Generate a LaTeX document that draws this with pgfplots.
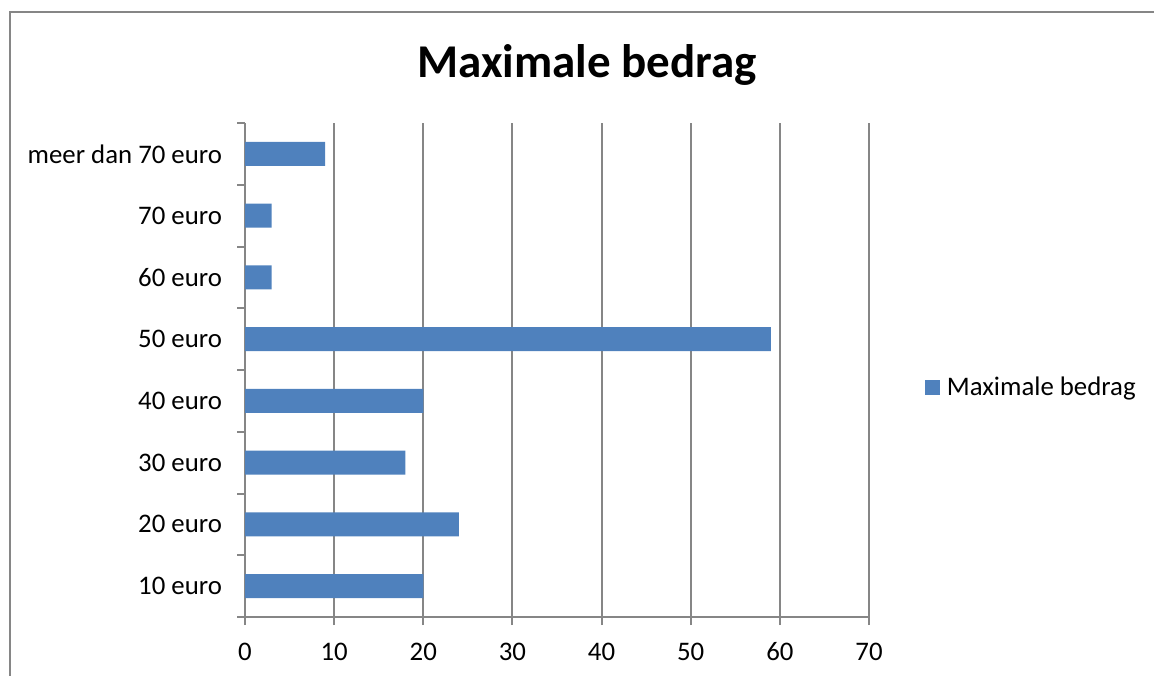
\documentclass[border=0pt]{standalone}
\usepackage{fontspec}
\setmainfont{Carlito}
\usepackage{pgfplots}
\pgfplotsset{compat=1.18}
\definecolor{barblue}{HTML}{4F81BD}
\definecolor{gridgray}{HTML}{868686}
\begin{document}
\begin{tikzpicture}
\useasboundingbox (0,0) rectangle (577pt,337.5pt);
\draw[gridgray, line width=1pt] (5pt,-5pt) -- (5pt,331.5pt) -- (590pt,331.5pt);
\node[font=\fontsize{23.5}{28}\selectfont\bfseries, anchor=base] at (293.5pt,298.5pt) {Maximale bedrag};
\begin{axis}[
  at={(122.5pt,29pt)}, anchor=south west,
  scale only axis, width=312pt, height=247pt,
  xmin=0, xmax=70, ymin=-0.5, ymax=7.5,
  xbar, bar width=12pt,
  axis x line*=bottom, axis y line*=left,
  axis line style={gridgray, line width=1pt, -},
  every tick/.style={gridgray, line width=1pt},
  xtick={0,10,...,70},
  xmajorgrids, major grid style={gridgray, line width=1pt},
  ytick={-0.5,0.5,...,7.5}, yticklabels={},
  extra y ticks={0,1,...,7},
  extra y tick labels={10 euro,20 euro,30 euro,40 euro,50 euro,60 euro,70 euro,meer dan 70 euro},
  extra y tick style={major tick length=0pt, yticklabel style={xshift=-8pt}},
  tick align=outside, major tick length=4pt,
  ticklabel style={font=\fontsize{13.4}{16}\selectfont},
  xticklabel style={yshift=-5.5pt, text height=8.5pt, text depth=0pt},
  /pgf/number format/assume math mode=true,
  legend style={at={(1.0897,0.4636)}, anchor=west, draw=none, fill=none,
    font=\fontsize{13.4}{16}\selectfont, inner sep=0pt,
    nodes={inner sep=1.75pt}},
  legend image code/.code={\fill[barblue] (0pt,-3.75pt) rectangle (7.5pt,3.75pt);},
]
\addplot[fill=barblue, draw=none] coordinates {
  (20,0) (24,1) (18,2) (20,3) (59,4) (3,5) (3,6) (9,7)
};
\addlegendentry{\hspace{1.5pt}Maximale bedrag}
\end{axis}
\end{tikzpicture}
\end{document}
